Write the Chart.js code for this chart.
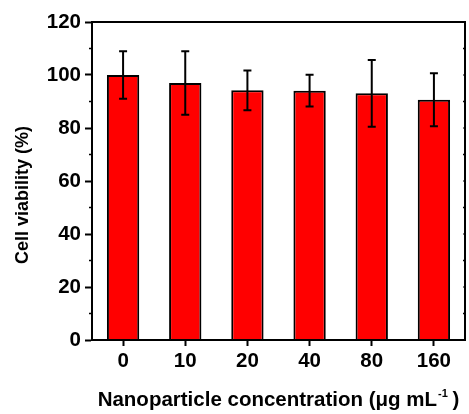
<!DOCTYPE html>
<html>
<head>
<meta charset="utf-8">
<script src="https://cdn.jsdelivr.net/npm/chart.js@4"></script>
<style>
  html, body { margin:0; padding:0; background:#fff; }
  #wrap { width:469px; height:414px; }
</style>
</head>
<body>
<div id="wrap"><canvas id="c" width="469" height="414"></canvas></div>
<script>
// data
const concentrations = ['0', '10', '20', '40', '80', '160']
const viability = [100, 97, 94.2, 94.1, 93.1, 90.7]
const viabilityErr = [9, 12, 7.5, 6, 12.6, 10]
const yTicks = [0, 20, 40, 60, 80, 100, 120]

const FONT = '"Liberation Sans", Arial, sans-serif'

// error bars + frame + minor ticks + axis titles (x title has a superscript)
const extras = {
    id:'extras',
    afterDatasetsDraw(chart){
        const ctx = chart.ctx
        const x = chart.scales.x, y = chart.scales.y
        const a = chart.chartArea
        ctx.save()
        ctx.strokeStyle = '#000'
        ctx.lineWidth = 2
        viability.forEach((v,i) => {
            const px = x.getPixelForValue(i)
            const top = y.getPixelForValue(v + viabilityErr[i])
            const bot = y.getPixelForValue(v - viabilityErr[i])
            ctx.beginPath()
            ctx.moveTo(px, top); ctx.lineTo(px, bot)
            ctx.moveTo(px-4, top); ctx.lineTo(px+4, top)
            ctx.moveTo(px-4, bot); ctx.lineTo(px+4, bot)
            ctx.stroke()
        })
        // frame
        ctx.strokeRect(a.left, a.top, a.right - a.left, a.bottom - a.top)
        // minor y ticks
        ctx.lineWidth = 1.5
        for (let v = 10; v < 120; v += 20) {
            const py = y.getPixelForValue(v)
            ctx.beginPath()
            ctx.moveTo(a.left - 3, py); ctx.lineTo(a.left, py)
            ctx.moveTo(a.right, py); ctx.lineTo(a.right - 2, py)
            ctx.stroke()
        }
        ctx.lineWidth = 1
        for (const v of yTicks) {
            const py = y.getPixelForValue(v)
            ctx.beginPath()
            ctx.moveTo(a.right, py); ctx.lineTo(a.right - 2, py)
            ctx.stroke()
        }
        ctx.fillStyle = '#000'
        ctx.textBaseline = 'alphabetic'
        // y title
        ctx.save()
        ctx.translate(28, 195)
        ctx.rotate(-Math.PI/2)
        ctx.textAlign = 'center'
        ctx.font = 'bold 18px ' + FONT
        ctx.fillText('Cell viability (%)', 0, 0)
        ctx.restore()
        // x title
        const main = 'Nanoparticle concentration (\u03bcg mL'
        ctx.font = 'bold 20.5px ' + FONT
        const w1 = ctx.measureText(main).width
        ctx.font = 'bold 11px ' + FONT
        const w2 = ctx.measureText('-1').width
        ctx.font = 'bold 20.5px ' + FONT
        const w3 = ctx.measureText(' )').width
        let sx = (a.left + a.right) / 2 - (w1 + w2 + w3) / 2
        const by = 406
        ctx.textAlign = 'left'
        ctx.fillText(main, sx, by)
        ctx.font = 'bold 11px ' + FONT
        ctx.fillText('-1', sx + w1 + 1, by - 9)
        ctx.font = 'bold 20.5px ' + FONT
        ctx.fillText(' )', sx + w1 + w2, by)
        ctx.restore()
    }
}

new Chart(document.getElementById('c'), {
    type:'bar',
    data:{
        labels:concentrations,
        datasets:[{
            data:viability,
            backgroundColor:'#ff0000',
            borderColor:'#000',
            borderWidth:2,
            borderSkipped:'bottom',
            barPercentage:0.52,
            categoryPercentage:1
        }]
    },
    options:{
        responsive:false,
        animation:false,
        layout:{ padding:{ top:22, right:4, bottom:0, left:0 }},
        plugins:{ legend:{ display:false }, tooltip:{ enabled:false }},
        scales:{
            x:{
                offset:true,
                grid:{ display:true, drawOnChartArea:false, offset:false, tickLength:6, tickColor:'#000', tickWidth:2 },
                border:{ color:'#000', width:2 },
                ticks:{ color:'#000', font:{ family:FONT, size:20.5, weight:'bold' }, padding:3 },
                afterFit(s){ s.height = 74 }
            },
            y:{
                min:0, max:120,
                grid:{ display:true, drawOnChartArea:false, tickLength:7, tickColor:'#000', tickWidth:2 },
                border:{ color:'#000', width:2 },
                ticks:{ stepSize:20, color:'#000', font:{ family:FONT, size:20.5, weight:'bold' }, padding:4 },
                afterFit(s){ s.width = 92 }
            }
        }
    },
    plugins:[extras]
})
</script>
</body>
</html>
